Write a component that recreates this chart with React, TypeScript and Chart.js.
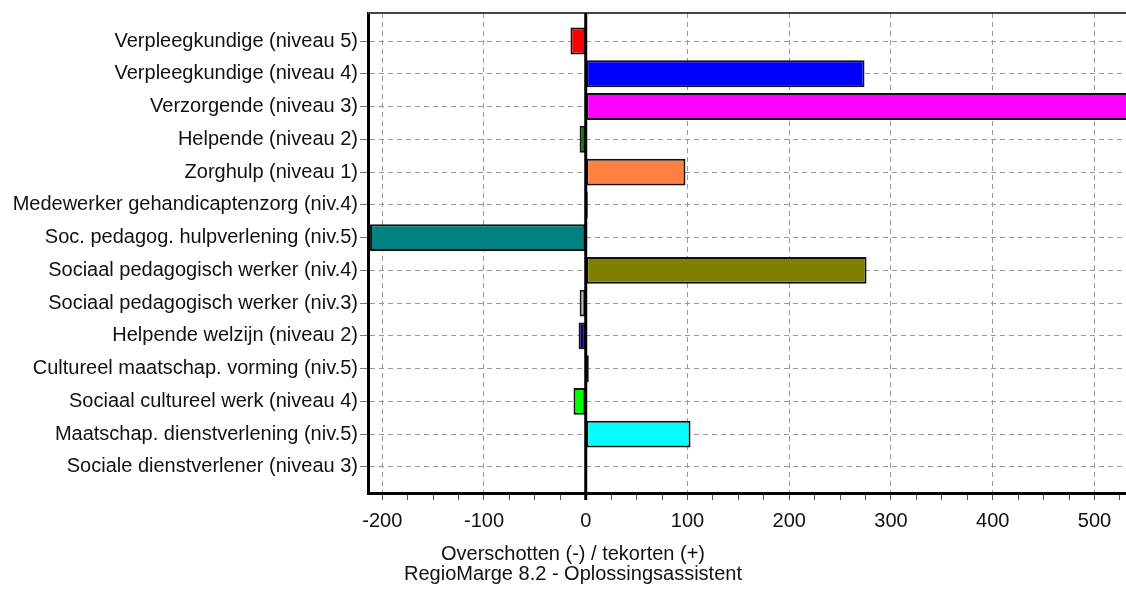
import React, { useEffect, useRef } from "react";
import { Chart, registerables } from "chart.js";

Chart.register(...registerables);

const categories = [
  "Verpleegkundige (niveau 5)",
  "Verpleegkundige (niveau 4)",
  "Verzorgende (niveau 3)",
  "Helpende (niveau 2)",
  "Zorghulp (niveau 1)",
  "Medewerker gehandicaptenzorg (niv.4)",
  "Soc. pedagog. hulpverlening (niv.5)",
  "Sociaal pedagogisch werker (niv.4)",
  "Sociaal pedagogisch werker (niv.3)",
  "Helpende welzijn (niveau 2)",
  "Cultureel maatschap. vorming (niv.5)",
  "Sociaal cultureel werk (niveau 4)",
  "Maatschap. dienstverlening (niv.5)",
  "Sociale dienstverlener (niveau 3)",
];

const values = [-15, 274, 600, -6, 98, 2, -212, 276, -6, -7, 3, -12, 103, 0];

const barColors = [
  "#FF0000",
  "#0000FF",
  "#FF00FF",
  "#008000",
  "#FF8040",
  "#FF0000",
  "#008080",
  "#808000",
  "#C0C0C0",
  "#000080",
  "#000000",
  "#00FF00",
  "#00FFFF",
  "#808080",
];

const xMin = -214;
const xMax = 531;
const xTickStep = 25;
const xMajorStep = 100;

const axisTitleLines = [
  "Overschotten (-) / tekorten (+)",
  "RegioMarge 8.2 - Oplossingsassistent",
];

const FONT = "'Liberation Sans', Arial, sans-serif";
const FONT_SIZE = 20;

const decorPlugin = {
  id: "decor",
  afterDatasetsDraw(chart: any) {
    const { ctx, chartArea, scales } = chart;
    const x0 = scales.x.getPixelForValue(0);
    ctx.save();
    ctx.strokeStyle = "#444444";
    ctx.lineWidth = 2;
    ctx.beginPath();
    ctx.moveTo(chartArea.left, chartArea.top);
    ctx.lineTo(chartArea.right, chartArea.top);
    ctx.stroke();
    ctx.strokeStyle = "#000000";
    ctx.lineWidth = 3;
    ctx.beginPath();
    ctx.moveTo(x0, chartArea.top);
    ctx.lineTo(x0, chartArea.bottom + 7);
    ctx.stroke();
    ctx.restore();
  },
  afterDraw(chart: any) {
    const { ctx, chartArea } = chart;
    ctx.save();
    ctx.fillStyle = "#111111";
    ctx.font = `${FONT_SIZE}px ${FONT}`;
    ctx.textAlign = "center";
    ctx.textBaseline = "middle";
    const cx = chartArea.left + 205;
    ctx.fillText(axisTitleLines[0], cx, chartArea.bottom + 61);
    ctx.fillText(axisTitleLines[1], cx, chartArea.bottom + 81);
    ctx.restore();
  },
};

export default function App() {
  const canvasRef = useRef<HTMLCanvasElement | null>(null);

  useEffect(() => {
    const canvas = canvasRef.current;
    if (!canvas) return;
    const chart = new Chart(canvas, {
      type: "bar",
      data: {
        datasets: [
          {
            data: values.map((v, i) => ({ x: v, y: i })),
            backgroundColor: barColors,
            borderColor: "#111111",
            borderWidth: 2,
            borderSkipped: false,
            barPercentage: 0.82,
            categoryPercentage: 1,
          },
        ],
      },
      plugins: [decorPlugin],
      options: {
        indexAxis: "y",
        animation: false,
        responsive: false,
        maintainAspectRatio: false,
        layout: { padding: { top: 13, left: 0, right: 0, bottom: 0 } },
        plugins: {
          legend: { display: false },
          tooltip: { enabled: false },
          title: { display: false },
        },
        scales: {
          x: {
            type: "linear",
            min: xMin,
            max: xMax,
            offset: false,
            afterFit(scale: any) {
              scale.height = 97;
              scale.paddingRight = 0;
              scale.paddingLeft = 0;
            },
            ticks: {
              stepSize: xTickStep,
              maxTicksLimit: 200,
              includeBounds: false,
              autoSkip: false,
              maxRotation: 0,
              padding: 9,
              color: "#111111",
              font: { family: FONT, size: FONT_SIZE },
              callback: (v: any) => (Number(v) % xMajorStep === 0 ? String(v) : ""),
            },
            grid: {
              offset: false,
              drawOnChartArea: true,
              tickLength: 7,
              lineWidth: 1,
              color: (ctx: any) =>
                ctx.tick && ctx.tick.value % xMajorStep === 0 && ctx.tick.value !== 0
                  ? "#999999"
                  : "rgba(0,0,0,0)",
              tickColor: "#555555",
              tickWidth: 1,
            },
            border: { display: true, color: "#000000", width: 3, dash: [5, 4] },
          },
          y: {
            type: "linear",
            reverse: true,
            min: -0.855,
            max: 13.795,
            offset: false,
            afterFit(scale: any) {
              scale.width = 368;
              scale.paddingTop = 0;
              scale.paddingBottom = 0;
            },
            ticks: {
              stepSize: 1,
              maxTicksLimit: 100,
              includeBounds: false,
              autoSkip: false,
              padding: 2,
              color: "#111111",
              font: { family: FONT, size: FONT_SIZE },
              callback: (v: any) => categories[Number(v)] ?? "",
            },
            grid: {
              offset: false,
              drawOnChartArea: true,
              tickLength: 8,
              lineWidth: 1,
              color: "#999999",
              tickColor: "#777777",
            },
            border: { display: true, color: "#000000", width: 3, dash: [5, 4] },
          },
        },
      },
    } as any);
    return () => chart.destroy();
  }, []);

  return (
    <div style={{ position: "fixed", left: 0, top: 0, width: 1126, height: 590, background: "#ffffff" }}>
      <canvas ref={canvasRef} width={1126} height={590} style={{ display: "block" }} />
    </div>
  );
}
